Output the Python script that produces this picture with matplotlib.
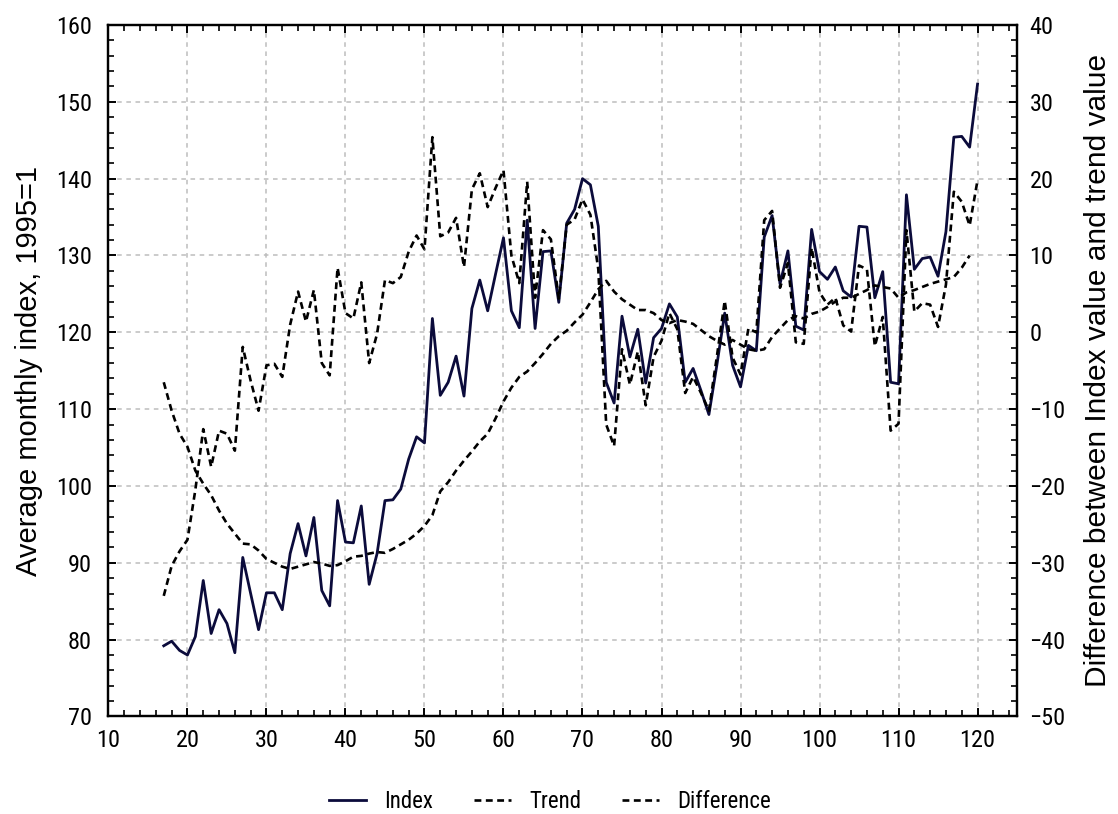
import matplotlib
matplotlib.use("Agg")
import matplotlib.pyplot as plt
from matplotlib.ticker import MultipleLocator
from matplotlib import font_manager as fm

# ---------------- data ----------------
months = list(range(17, 121))
index_values = [
    79.2, 79.8, 78.6, 78.0, 80.4, 87.7, 80.8, 83.9, 82.1, 78.3,   # 17-26
    90.7, 86.0, 81.3, 86.1, 86.1, 83.9, 91.2, 95.1, 90.9, 95.9,   # 27-36
    86.4, 84.4, 98.1, 92.7, 92.6, 97.4, 87.2, 91.2, 98.1, 98.2,   # 37-46
    99.6, 103.5, 106.4, 105.6, 121.8, 111.8, 113.5, 116.9, 111.7, 123.1,  # 47-56
    126.8, 122.8, 127.6, 132.3, 122.8, 120.6, 134.6, 120.5, 130.5, 130.6,  # 57-66
    123.9, 134.2, 136.0, 140.0, 139.2, 133.8, 113.5, 110.8, 122.1, 116.8,  # 67-76
    120.4, 113.4, 119.3, 120.5, 123.7, 122.0, 113.5, 115.3, 112.4, 109.3,  # 77-86
    115.7, 122.5, 115.7, 112.9, 118.3, 117.6, 132.4, 135.2, 126.3, 130.6,  # 87-96
    120.8, 120.3, 133.4, 127.9, 126.9, 128.5, 125.4, 124.6, 133.8, 133.7,  # 97-106
    124.5, 127.9, 113.5, 113.3, 137.9, 128.2, 129.6, 129.8, 127.3, 133.1,  # 107-116
    145.4, 145.5, 144.1, 152.3,                                          # 117-120
]

trend_months = list(range(17, 120))
trend_values = [
    113.5, 109.8, 106.8, 105.1, 102.0, 100.3, 98.8, 96.8, 95.1, 93.8,   # 17-26
    92.5, 92.4, 91.6, 90.5, 90.0, 89.5, 89.2, 89.5, 89.8, 90.1,         # 27-36
    89.9, 89.6, 89.7, 90.2, 90.8, 90.9, 91.2, 91.4, 91.3, 91.8,         # 37-46
    92.4, 93.0, 93.8, 94.8, 96.2, 99.3, 100.5, 102.0, 103.3, 104.5,     # 47-56
    105.8, 106.8, 108.8, 111.0, 112.8, 114.2, 114.9, 116.0, 117.2, 118.5,  # 57-66
    119.5, 120.2, 121.3, 122.3, 123.9, 125.6, 126.7, 125.3, 124.3, 123.6,  # 67-76
    122.9, 122.9, 122.5, 121.6, 121.2, 121.6, 121.4, 121.1, 120.3, 119.5,  # 77-86
    118.9, 118.4, 119.0, 118.4, 117.8, 117.6, 117.8, 119.4, 120.5, 121.6,  # 87-96
    122.1, 121.8, 122.4, 122.7, 123.3, 124.0, 124.5, 124.5, 125.0, 125.5,  # 97-106
    126.1, 125.9, 125.7, 124.5, 125.2, 125.5, 125.9, 126.3, 126.6, 126.9,  # 107-116
    127.2, 128.4, 130.0,                                                  # 117-119
]

difference_values = [
    -34.3, -30.4, -28.5, -27.0, -20.5, -12.6, -17.5, -12.8, -13.2, -15.4,  # 17-26
    -1.9, -6.3, -10.2, -4.3, -4.1, -5.8, 1.0, 5.3, 1.4, 5.5,              # 27-36
    -4.0, -5.6, 8.4, 2.5, 1.8, 6.5, -4.0, -0.2, 6.8, 6.4,                 # 37-46
    7.2, 10.5, 12.6, 10.8, 25.4, 12.5, 13.0, 14.9, 8.5, 18.6,             # 47-56
    20.7, 16.3, 18.8, 21.1, 10.0, 6.4, 19.6, 4.5, 13.3, 12.1,             # 57-66
    4.4, 14.0, 14.7, 17.3, 15.3, 8.2, -12.0, -14.8, -2.2, -6.8,           # 67-76
    -2.5, -9.5, -3.2, -1.1, 2.5, 0.4, -7.9, -5.8, -7.9, -10.2,            # 77-86
    -3.2, 4.1, -3.3, -5.5, 0.5, 0.0, 14.6, 15.8, 5.8, 9.0,                # 87-96
    -1.3, -1.5, 11.0, 5.2, 3.6, 4.5, 0.9, 0.1, 8.7, 8.2,                  # 97-106
    -1.8, 2.0, -12.8, -11.9, 13.3, 2.7, 3.8, 3.6, 0.7, 6.2,               # 107-116
    18.3, 17.0, 13.9, 19.8,                                               # 117-120
]

x_ticks = list(range(10, 121, 10))
left_ticks = list(range(70, 161, 10))
right_ticks = list(range(-50, 41, 10))

# ---------------- fonts ----------------
available = {f.name for f in fm.fontManager.ttflist}
narrow = next((n for n in ["Liberation Sans Narrow", "Arial Narrow", "Roboto Condensed",
                           "PT Sans Narrow", "Archivo Narrow", "Liberation Sans"]
               if n in available), "DejaVu Sans")
regular = next((n for n in ["Liberation Sans", "Arial", "Arimo"] if n in available), "DejaVu Sans")
plt.rcParams["font.family"] = [narrow, "DejaVu Sans"]
plt.rcParams["font.weight"] = "normal"

navy = "#0b0b3b"
dash = (0, (2.6, 1.7))

fig = plt.figure(figsize=(11.18, 8.14), dpi=100)
ax = fig.add_axes([0.0970, 0.1198, 0.8127, 0.8495])
ax2 = ax.twinx()

l1, = ax.plot(months, index_values, color=navy, lw=2.0, label="Index")
l2, = ax.plot(trend_months, trend_values, color="black", lw=1.9, linestyle=dash, label="Trend")
l3, = ax2.plot(months, difference_values, color="black", lw=1.9, linestyle=dash, label="Difference")

ax.set_xlim(10, 125)
ax.set_ylim(70, 160)
ax2.set_ylim(-50, 40)

ax.set_xticks(x_ticks)
ax.set_yticks(left_ticks)
ax2.set_yticks(right_ticks)
ax.xaxis.set_minor_locator(MultipleLocator(2))
ax.yaxis.set_minor_locator(MultipleLocator(2))
ax2.yaxis.set_minor_locator(MultipleLocator(2))

ax.grid(True, which="major", color="#bdbdbd", linestyle=(0, (3, 3)), linewidth=1.1)
ax.set_axisbelow(True)

for a in (ax, ax2):
    for s in a.spines.values():
        s.set_linewidth(1.6)
        s.set_color("black")

ax.tick_params(axis="both", which="both", direction="in", top=True, right=False,
               labelsize=17.5, color="black")
ax.tick_params(which="major", length=6, width=1.4)
ax.tick_params(which="minor", length=4, width=1.2)
ax.tick_params(axis="y", pad=12)
ax.tick_params(axis="x", pad=9)
ax2.tick_params(axis="y", which="both", direction="in", labelsize=17.5)
ax2.tick_params(axis="y", which="major", length=6, width=1.4, pad=9)
ax2.tick_params(axis="y", which="minor", length=4, width=1.2)

ax.set_ylabel("Average monthly index, 1995=1", fontsize=21,
              family=[regular, "DejaVu Sans"], labelpad=9)
ax2.set_ylabel("Difference between Index value and trend value", fontsize=21.5,
               family=[regular, "DejaVu Sans"], labelpad=13)

fig.legend(handles=[l1, l2, l3], loc="lower center", bbox_to_anchor=(0.492, -0.024),
           ncol=3, frameon=False, fontsize=16.5, handlelength=1.6, columnspacing=1.8,
           handletextpad=0.8)

fig.savefig("out.png", dpi=100)
